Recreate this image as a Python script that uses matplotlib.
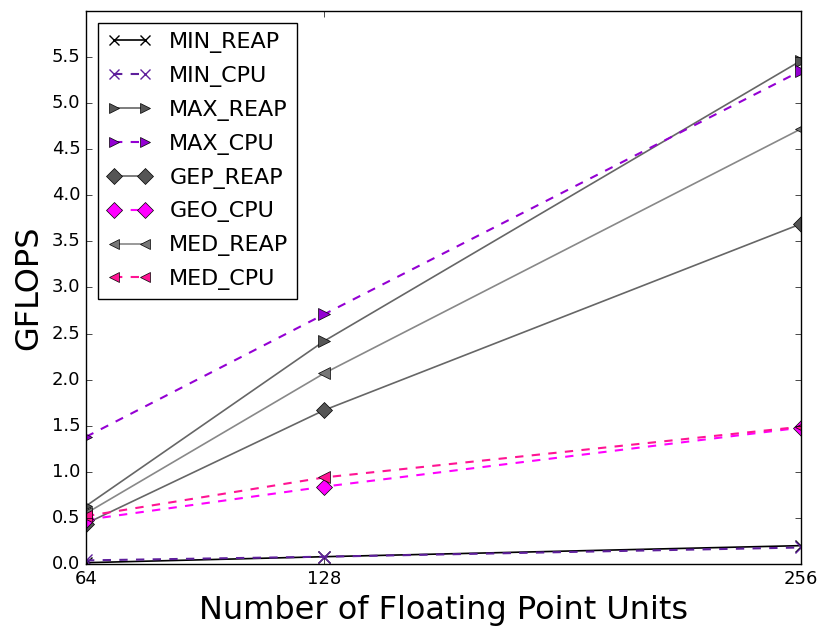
import numpy as np
import matplotlib
matplotlib.use("Agg")
import matplotlib.pyplot as plt

plt.style.use("classic")

# Number of floating point units
fpus = [64, 128, 256]

# GFLOPS per configuration
min_reap = [0.015, 0.08, 0.20]
min_cpu = [0.04, 0.08, 0.18]
max_reap = [0.63, 2.42, 5.46]
max_cpu = [1.38, 2.71, 5.35]
gep_reap = [0.44, 1.67, 3.69]
geo_cpu = [0.48, 0.84, 1.48]
med_reap = [0.55, 2.07, 4.72]
med_cpu = [0.52, 0.94, 1.49]

yticks = np.arange(0.0, 6.0, 0.5)

fig = plt.figure(figsize=(8.3, 6.41), dpi=100)
ax = fig.add_axes([0.1036, 0.120, 0.8614, 0.863])

ax.plot(fpus, min_reap, color="black", ls="-", lw=1.2, marker="x",
        ms=8, mew=1.0, mec="black", label="MIN_REAP")
ax.plot(fpus, min_cpu, color="#5e1f9c", ls="--", lw=1.5, marker="x",
        ms=8, mew=1.0, mec="#5e1f9c", label="MIN_CPU")
ax.plot(fpus, max_reap, color="#666666", ls="-", lw=1.2, marker=">",
        ms=8.5, mfc="#555555", mec="black", label="MAX_REAP")
ax.plot(fpus, max_cpu, color="#9400d3", ls="--", lw=1.5, marker=">",
        ms=8.5, mfc="#9400d3", mec="black", label="MAX_CPU")
ax.plot(fpus, gep_reap, color="#666666", ls="-", lw=1.2, marker="D",
        ms=8.5, mfc="#555555", mec="black", label="GEP_REAP")
ax.plot(fpus, geo_cpu, color="#ff00ff", ls="--", lw=1.5, marker="D",
        ms=8.5, mfc="#ff00ff", mec="black", label="GEO_CPU")
ax.plot(fpus, med_reap, color="#888888", ls="-", lw=1.2, marker="<",
        ms=8.5, mfc="#777777", mec="black", label="MED_REAP")
ax.plot(fpus, med_cpu, color="#ff1493", ls="--", lw=1.5, marker="<",
        ms=8.5, mfc="#ff1493", mec="black", label="MED_CPU")

ax.set_xlim(64, 256)
ax.set_ylim(0, 6.0)
ax.set_xticks(fpus)
ax.set_yticks(yticks)
ax.set_yticklabels([f"{v:.1f}" for v in yticks])
ax.tick_params(labelsize=13)

ax.set_xlabel("Number of Floating Point Units", fontsize=23)
ax.set_ylabel("GFLOPS", fontsize=23)

ax.legend(loc="upper left", fontsize=16, numpoints=2, borderaxespad=0.55,
          labelspacing=0.58, markerscale=0.9)

fig.savefig("out.png", dpi=100, facecolor="white")
